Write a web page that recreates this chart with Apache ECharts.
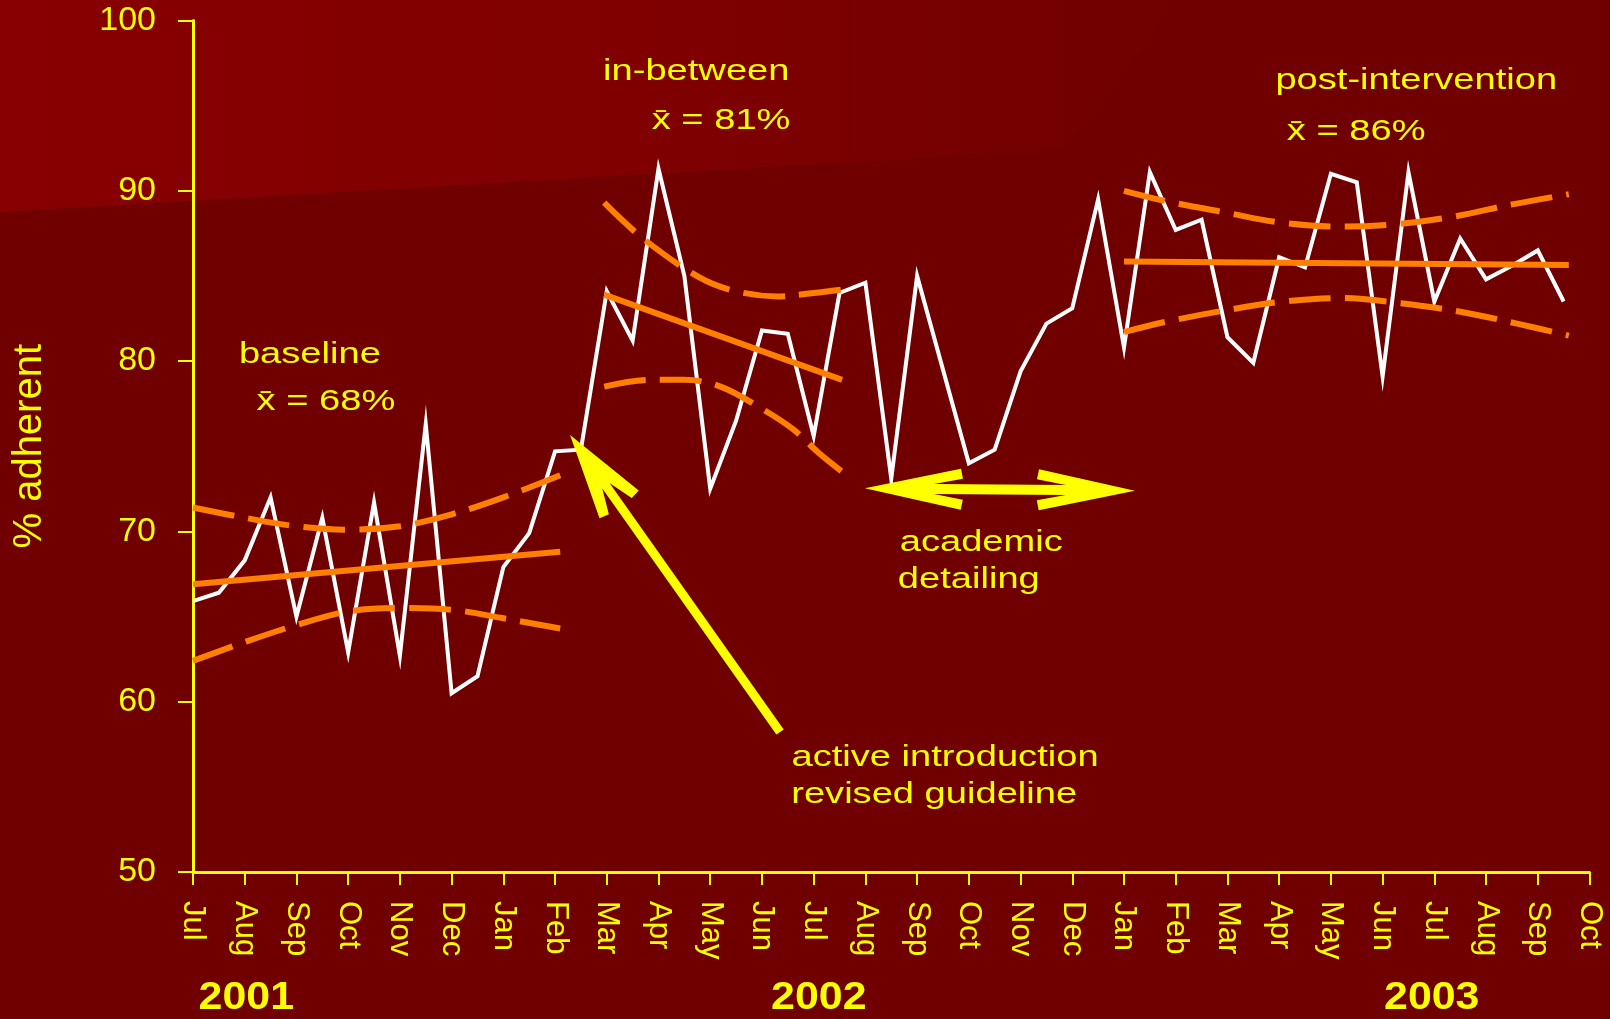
<!DOCTYPE html>
<html>
<head>
<meta charset="utf-8">
<style>
html,body{margin:0;padding:0;background:#700000;}
#chart{width:1610px;height:1019px;}
</style>
<script src="https://cdn.jsdelivr.net/npm/echarts@6/dist/echarts.min.js"></script>
</head>
<body>
<div id="chart"></div>
<script>
// Month tick labels, Jul 2001 .. Oct 2003
const monthLabels = ['Jul','Aug','Sep','Oct','Nov','Dec','Jan','Feb','Mar','Apr','May','Jun',
  'Jul','Aug','Sep','Oct','Nov','Dec','Jan','Feb','Mar','Apr','May','Jun','Jul','Aug','Sep','Oct'];
const yearLabels = ['2001', '2002', '2003'];
const yTicks = [50, 60, 70, 80, 90, 100];

// Half-monthly % adherent, starting with the first half of Jul 2001
const adherence = [
  65.9, 66.4, 68.3, 72.0, 65.0, 70.8, 62.9, 71.7, 62.7, 76.3, 60.5, 61.5, 67.9, 69.9, 74.7, 74.8,
  84.1, 81.2, 91.3, 85.0, 72.5, 76.5, 81.8, 81.6, 75.6, 84.0, 84.6, 73.1, 85.0, 79.5, 74.0, 74.8,
  79.4, 82.2, 83.1, 89.5, 80.8, 91.1, 87.7, 88.3, 81.4, 79.9, 86.1, 85.5, 91.0, 90.5, 79.1, 91.1,
  83.5, 87.2, 84.8, 85.6, 86.5, 83.5
];

// Trend line and confidence band per period, as [month index, %]
const baselineFit   = [[0, 66.9], [7.1, 68.8]];
const baselineUpper = [[0, 71.4], [1, 70.8], [2, 70.3], [3, 70.1], [4, 70.3], [5, 71.0], [6, 72.0], [7.1, 73.3]];
const baselineLower = [[0, 62.4], [1, 63.5], [2, 64.5], [3, 65.3], [4, 65.5], [5, 65.4], [6, 64.9], [7.1, 64.3]];
const betweenFit    = [[7.95, 83.9], [12.55, 78.9]];
const betweenUpper  = [[7.95, 89.3], [8.7, 87.2], [9.8, 84.9], [10.5, 84.1], [11.3, 83.8], [12, 84.0], [12.55, 84.2]];
const betweenLower  = [[7.95, 78.5], [8.8, 78.9], [9.5, 78.9], [10.2, 78.5], [11, 77.2], [11.6, 76.0], [12.1, 74.6], [12.55, 73.5]];
const postFit       = [[18, 85.85], [26.6, 85.65]];
const postUpper     = [[18, 90.0], [18.8, 89.4], [20, 88.7], [21, 88.15], [22.2, 87.9], [23.3, 88.05], [24.4, 88.5], [25.5, 89.2], [26.6, 89.8]];
const postLower     = [[18, 81.7], [18.8, 82.3], [20, 83.0], [21.1, 83.5], [22.2, 83.7], [23.35, 83.4], [24.5, 82.9], [25.6, 82.2], [26.6, 81.5]];

// Annotation texts, anchored in chart coordinates [month index, %]
const notes = [
  { text: 'baseline',            at: [2.26, 80.36] },
  { text: 'x\u0304 = 68%',       at: [2.57, 77.6] },
  { text: 'in-between',          at: [9.73, 97.0] },
  { text: 'x\u0304 = 81%',       at: [10.21, 94.1] },
  { text: 'post-intervention',   at: [23.65, 96.45] },
  { text: 'x\u0304 = 86%',       at: [22.49, 93.45] },
  { text: 'academic',            at: [15.24, 69.32] },
  { text: 'detailing',           at: [15.0, 67.15] },
  { text: 'active introduction', at: [14.54, 56.69] },
  { text: 'revised guideline',   at: [14.33, 54.52] }
];
const yearAt = [1.03, 12.1, 23.95];
// Arrow end points [month index, %]
const introArrow = { tip: [7.29, 75.66], tail: [11.35, 58.22] };
const detailArrow = { from: [12.99, 72.53], to: [18.21, 72.39] };

const FONT = '"Liberation Sans", Arial, sans-serif';
const YELLOW = '#ffff00';
const ORANGE = '#ff8000';

const chart = echarts.init(document.getElementById('chart'), null, { renderer: 'canvas' });

function bandLine(data, dashed) {
  return {
    type: 'line', data: data, symbol: 'none', silent: true, z: 4,
    smooth: dashed ? 0.35 : false,
    lineStyle: { color: ORANGE, width: 6, type: dashed ? [42, 14] : 'solid', cap: 'butt' }
  };
}

chart.setOption({
  backgroundColor: '#700000',
  animation: false,
  grid: { left: 193, right: 20.5, top: 20.5, bottom: 147 },
  xAxis: {
    type: 'value', min: 0, max: monthLabels.length - 1, interval: 1,
    axisLine: { show: true, onZero: false, lineStyle: { color: YELLOW, width: 3 } },
    axisTick: { show: true, length: 13, lineStyle: { color: YELLOW, width: 2 } },
    axisLabel: {
      rotate: -90, margin: 29, color: YELLOW, fontFamily: FONT, fontSize: 31,
      formatter: function (v) { return monthLabels[v] || ''; }
    },
    splitLine: { show: false }
  },
  yAxis: {
    type: 'value', min: yTicks[0], max: yTicks[yTicks.length - 1], interval: yTicks[1] - yTicks[0],
    name: '% adherent', nameLocation: 'middle', nameRotate: 90, nameGap: 143,
    nameTextStyle: { color: YELLOW, fontFamily: FONT, fontSize: 40 },
    axisLine: { show: true, lineStyle: { color: YELLOW, width: 3 } },
    axisTick: { show: true, length: 15, lineStyle: { color: YELLOW, width: 2 } },
    axisLabel: { margin: 37, color: YELLOW, fontFamily: FONT, fontSize: 34 },
    splitLine: { show: false }
  },
  series: [
    {
      type: 'line', name: '% adherent', silent: true, z: 3, symbol: 'none',
      data: adherence.map(function (v, i) { return [i / 2, v]; }),
      lineStyle: { color: '#ffffff', width: 4, join: 'miter', miterLimit: 40 }
    },
    bandLine(baselineFit, false), bandLine(baselineUpper, true), bandLine(baselineLower, true),
    bandLine(betweenFit, false), bandLine(betweenUpper, true), bandLine(betweenLower, true),
    bandLine(postFit, false), bandLine(postUpper, true), bandLine(postLower, true)
  ]
});

function px(pt) { return chart.convertToPixel({ gridIndex: 0 }, pt); }

// Polygon for an arrow from a to b; heads at the ends flagged in `heads`
function arrowPolygon(a, b, head, heads) {
  const dx = b[0] - a[0], dy = b[1] - a[1];
  const len = Math.sqrt(dx * dx + dy * dy);
  const ux = dx / len, uy = dy / len, nx = -uy, ny = ux;
  const P = function (u, w) { return [a[0] + ux * u + nx * w, a[1] + uy * u + ny * w]; };
  const L = head.len, H = head.half, T = head.barb, N = head.notch, S = head.shaft;
  const pts = [];
  if (heads[0]) { pts.push(P(0, 0), P(L, H), P(L + 2, H - T), P(N, S)); }
  else { pts.push(P(0, S)); }
  if (heads[1]) { pts.push(P(len - N, S), P(len - L - 2, H - T), P(len - L, H), P(len, 0),
                           P(len - L, -H), P(len - L - 2, -(H - T)), P(len - N, -S)); }
  else { pts.push(P(len, S), P(len, -S)); }
  if (heads[0]) { pts.push(P(N, -S), P(L + 2, -(H - T)), P(L, -H)); }
  else { pts.push(P(0, -S)); }
  return pts;
}

function drawOverlay() {
  const g = [];
  // lighter wash in the upper-left corner of the backdrop
  g.push({
    type: 'polygon', silent: true, z: -10,
    shape: { points: [[0, 0], [1180, 0], [1060, 150], [0, 212]] },
    style: { fill: new echarts.graphic.LinearGradient(0, 0, 1, 0, [
      { offset: 0, color: '#880000' }, { offset: 0.55, color: '#800000' }, { offset: 1, color: '#700000' }]) }
  });
  notes.forEach(function (n) {
    const p = px(n.at);
    g.push({
      type: 'text', silent: true, z: 20, x: p[0], y: p[1], scaleX: 1.27,
      style: { text: n.text, fill: YELLOW, fontFamily: FONT, fontSize: 30,
               align: 'center', verticalAlign: 'middle' }
    });
  });
  yearLabels.forEach(function (t, i) {
    const p = px([yearAt[i], yTicks[0]]);
    g.push({
      type: 'text', silent: true, z: 20, x: p[0], y: 998, scaleX: 1.1,
      style: { text: t, fill: YELLOW, fontFamily: FONT, fontSize: 39, fontWeight: 'bold',
               align: 'center', verticalAlign: 'middle' }
    });
  });
  g.push({
    type: 'polygon', silent: true, z: 30,
    shape: { points: arrowPolygon(px(introArrow.tip), px(introArrow.tail),
      { len: 85, half: 24, barb: 10, notch: 62, shaft: 4.5 }, [true, false]) },
    style: { fill: YELLOW }
  });
  g.push({
    type: 'polygon', silent: true, z: 30,
    shape: { points: arrowPolygon(px(detailArrow.from), px(detailArrow.to),
      { len: 96, half: 20.5, barb: 10, notch: 69, shaft: 5 }, [true, true]) },
    style: { fill: YELLOW }
  });
  chart.setOption({ graphic: g });
}
drawOverlay();
</script>
</body>
</html>
